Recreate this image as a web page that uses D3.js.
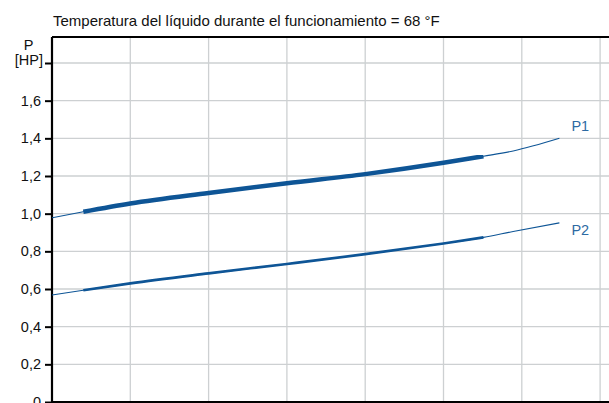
<!DOCTYPE html>
<html><head><meta charset="utf-8">
<script src="https://cdn.jsdelivr.net/npm/d3@7"></script>
<style>body{margin:0;background:#fff}svg{display:block}</style>
</head><body>
<script>
const title = "Temperatura del líquido durante el funcionamiento = 68 °F";
const yTicks = [0, 0.2, 0.4, 0.6, 0.8, 1.0, 1.2, 1.4, 1.6, 1.8];
const yTickLabels = ["0", "0,2", "0,4", "0,6", "0,8", "1,0", "1,2", "1,4", "1,6", ""];
const xGrid = [1, 2, 3, 4, 5, 6, 7];
const xs = [0, 0.4, 1, 2, 3, 4, 5, 5.51, 5.89, 6.48];
const p1 = [0.978, 1.01, 1.054, 1.11, 1.162, 1.21, 1.27, 1.305, 1.333, 1.40];
const p2 = [0.568, 0.593, 0.63, 0.683, 0.733, 0.785, 0.842, 0.874, 0.905, 0.951];
const opRange = [0.4, 5.51];
const seriesNames = ["P1", "P2"];

const W = 609, H = 403;
const mLeft = 52, mTop = 37, mBottom = 402;
const FS = 14.5;
const FONT = "Arial, 'Liberation Sans', sans-serif";
const x = d3.scaleLinear().domain([0, 7.5]).range([mLeft, mLeft + 7.5 * 78.3]);
const y = d3.scaleLinear().domain([0, 1.8]).range([mBottom, 63]);

const svg = d3.select("body").append("svg").attr("width", W).attr("height", H)
  .style("font-family", FONT);

svg.append("text").attr("x", 53).attr("y", 26).attr("font-size", 15).attr("fill", "#111").text(title);

const g = svg.append("g");
g.selectAll(".hg").data(yTicks.filter(d => d > 0)).enter().append("line")
  .attr("x1", mLeft).attr("x2", W).attr("y1", d => y(d)).attr("y2", d => y(d))
  .attr("stroke", "#cdd0d2").attr("stroke-width", 1.3);
g.selectAll(".vg").data(xGrid).enter().append("line")
  .attr("x1", d => x(d)).attr("x2", d => x(d)).attr("y1", mTop).attr("y2", mBottom)
  .attr("stroke", "#cdd0d2").attr("stroke-width", 1.3);

g.append("line").attr("x1", mLeft).attr("x2", W).attr("y1", mTop).attr("y2", mTop).attr("stroke", "#000").attr("stroke-width", 1.8);
g.append("line").attr("x1", mLeft).attr("x2", W).attr("y1", mBottom).attr("y2", mBottom).attr("stroke", "#000").attr("stroke-width", 1.8);

const yAxis = d3.axisLeft(y).tickValues(yTicks).tickSize(7).tickPadding(4)
  .tickFormat((d, i) => yTickLabels[i]);
const ya = svg.append("g").attr("transform", `translate(${mLeft},0)`).call(yAxis);
ya.select(".domain").attr("d", `M0,${mTop}V${mBottom}`).attr("stroke", "#000").attr("stroke-width", 2.2);
ya.selectAll(".tick line").attr("stroke", "#000").attr("stroke-width", 2);
ya.selectAll(".tick text").attr("font-size", FS).attr("fill", "#111").attr("font-family", FONT);

svg.append("text").attr("x", 28.5).attr("y", 50).attr("text-anchor", "middle").attr("font-size", FS).attr("fill", "#111").text("P");
svg.append("text").attr("x", 43).attr("y", 65).attr("text-anchor", "end").attr("font-size", FS).attr("fill", "#111").text("[HP]");

const line = d3.line().x(d => x(d[0])).y(d => y(d[1])).curve(d3.curveMonotoneX);
const color = "#0e5596";
[[p1, 4.5], [p2, 2.6]].forEach(([vals, w], i) => {
  const pts = xs.map((xv, j) => [xv, vals[j]]);
  svg.append("path").attr("d", line(pts)).attr("fill", "none").attr("stroke", color).attr("stroke-width", 1.1);
  const thick = pts.filter(p => p[0] >= opRange[0] && p[0] <= opRange[1]);
  svg.append("path").attr("d", line(thick)).attr("fill", "none").attr("stroke", color).attr("stroke-width", w);
  const last = pts[pts.length - 1];
  svg.append("text").attr("x", x(last[0]) + 12).attr("y", y(last[1]) + (i === 0 ? -7 : 12.5))
    .attr("font-size", FS).attr("fill", "#2d6aa3").text(seriesNames[i]);
});
</script>
</body></html>
